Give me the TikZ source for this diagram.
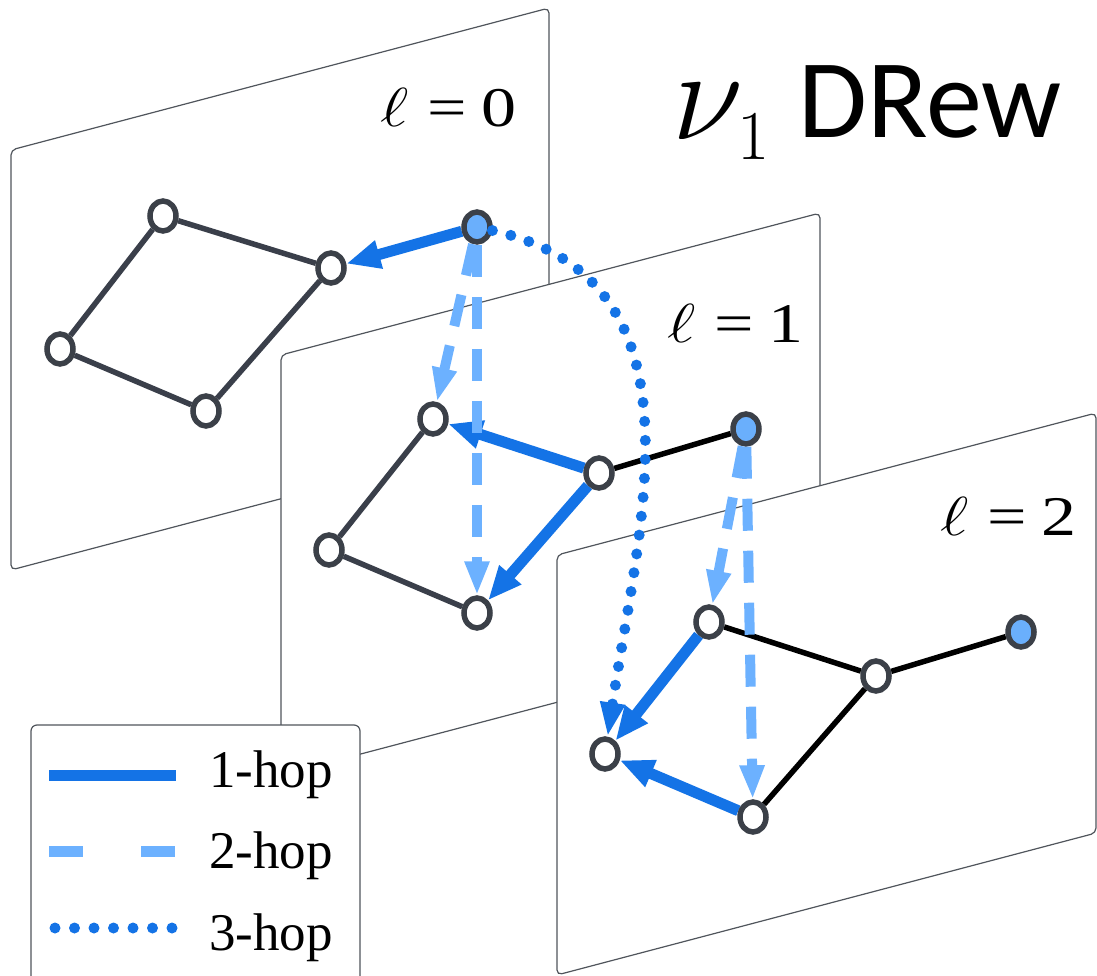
\RequirePackage{fix-cm}
\documentclass[tikz,border=0pt]{standalone}
\usepackage{fontspec}
\setmainfont{Liberation Serif}
\newfontfamily\carlito{Carlito}
\newfontfamily\lmfont{Latin Modern Roman}
\usetikzlibrary{arrows.meta,shapes.geometric}
\definecolor{hopblue}{HTML}{1473E6}
\definecolor{lightblue}{HTML}{6CB1FF}
\definecolor{nodefill}{HTML}{6AAFFC}
\definecolor{ringgray}{HTML}{3B4048}
\definecolor{edgegray}{HTML}{3A3F4A}
\definecolor{framegray}{HTML}{50555C}
\newcommand{\layerlab}[1]{\scalebox{1.25}[1]{\fontsize{55}{55}\selectfont$\ell$\hspace{15pt}\fontsize{56}{56}\selectfont=\hspace{12pt}#1}}
\pgfdeclarelayer{p0}\pgfdeclarelayer{e0}\pgfdeclarelayer{n0}
\pgfdeclarelayer{p1}\pgfdeclarelayer{e1}\pgfdeclarelayer{n1}
\pgfdeclarelayer{p2}\pgfdeclarelayer{e2}\pgfdeclarelayer{n2}
\pgfsetlayers{p0,e0,n0,p1,e1,n1,p2,e2,n2,main}
\tikzset{
  vtx/.style={ellipse, draw=ringgray, line width=5.5pt, fill=white, minimum width=26pt, minimum height=30pt, inner sep=0pt},
  src/.style={vtx, fill=nodefill},
  gedge/.style={draw=edgegray, line width=5.5pt},
  bedge/.style={draw=black, line width=5.5pt},
  onehop/.style={draw=hopblue, line width=11pt, -{Triangle[length=34pt,width=27pt]}},
  twohop/.style={draw=lightblue, line width=10pt, dash pattern=on 32pt off 20pt, -{Triangle[length=34pt,width=23pt]}},
  threehop/.style={draw=hopblue, line width=11pt, line cap=round, dash pattern=on 0pt off 19pt, -{Triangle[length=34pt,width=23pt]}},
  plane/.style={draw=framegray, line width=1.2pt, fill=white, rounded corners=5pt},
  layerlabel/.style={anchor=base west, inner sep=0pt},
  legtext/.style={anchor=base west, inner sep=0pt, font=\fontsize{53}{53}\selectfont},
}
\begin{document}
\begin{tikzpicture}[x=1pt,y=-1pt]
\useasboundingbox (0,0) rectangle (1097,976);
% ---------- plane 0
\begin{pgfonlayer}{p0}
\draw[plane] (11,150) -- (549,8) -- (549,428) -- (11,570) -- cycle;
\node[layerlabel] (lab0) at (380,127) {\layerlab{0}};
\end{pgfonlayer}
\begin{pgfonlayer}{n0}
\node[vtx] (a0) at (163,216) {};
\node[vtx] (b0) at (331,268) {};
\node[vtx] (c0) at (60,349) {};
\node[vtx] (d0) at (206,411) {};
\node[src] (s0) at (477,227) {};
\end{pgfonlayer}
\begin{pgfonlayer}{e0}
\draw[gedge] (a0) -- (b0);
\draw[gedge] (a0) -- (c0);
\draw[gedge] (c0) -- (d0);
\draw[gedge] (d0) -- (b0);
\draw[onehop] (s0) -- (b0);
\end{pgfonlayer}
% ---------- plane 1
\begin{pgfonlayer}{p1}
\draw[plane] (281,355) -- (820,213) -- (820,633) -- (281,775) -- cycle;
\node[layerlabel] (lab1) at (667,342) {\layerlab{1}};
\end{pgfonlayer}
\begin{pgfonlayer}{n1}
\node[vtx] (a1) at (433,419) {};
\node[vtx] (m1) at (599,473) {};
\node[vtx] (c1) at (329,550) {};
\node[vtx] (d1) at (477,613) {};
\node[src] (s1) at (746,429) {};
\end{pgfonlayer}
\begin{pgfonlayer}{e1}
\draw[gedge] (a1) -- (c1);
\draw[gedge] (c1) -- (d1);
\draw[bedge] (m1) -- (s1);
\draw[onehop] (m1) -- (a1);
\draw[onehop] (m1) -- (d1);
\end{pgfonlayer}
% ---------- plane 2
\begin{pgfonlayer}{p2}
\draw[plane] (557,555) -- (1096,413) -- (1096,833) -- (557,975) -- cycle;
\node[layerlabel] (lab2) at (940,535) {\layerlab{2}};
\end{pgfonlayer}
\begin{pgfonlayer}{n2}
\node[vtx] (a2) at (709,622) {};
\node[vtx] (m2) at (876,676) {};
\node[vtx] (c2) at (605,754) {};
\node[vtx] (d2) at (753,817) {};
\node[src] (s2) at (1021,632) {};
\end{pgfonlayer}
\begin{pgfonlayer}{e2}
\draw[bedge] (a2) -- (m2);
\draw[bedge] (m2) -- (s2);
\draw[bedge] (m2) -- (d2);
\draw[onehop] (a2) -- (c2);
\draw[onehop] (d2) -- (c2);
\end{pgfonlayer}
% ---------- cross-layer hops
\draw[twohop] (s0) -- (a1);
\draw[twohop] (s0) -- (d1);
\draw[twohop] (s1) -- (a2);
\draw[twohop] (s1) -- (d2);
\draw[threehop] (s0) .. controls (710,280) and (640,520) .. (c2);
% ---------- title
\node[anchor=base west, inner sep=0pt, font=\fontsize{130}{130}\selectfont] (nu) at (672,140) {$\nu$};
\node[anchor=base west, inner sep=0pt, font=\lmfont\fontsize{70}{70}\selectfont] (sub) at (737,160) {1};
\node[anchor=base west, inner sep=0pt, font=\carlito\fontsize{112}{112}\selectfont] (drew) at (798,138) {DRew};
% ---------- legend
\draw[plane, rounded corners=6pt] (31,725) rectangle (360,990);
\coordinate (l1a) at (49,775.5); \coordinate (l1b) at (176,775.5);
\coordinate (l2a) at (49,851.5); \coordinate (l2b) at (176,851.5);
\coordinate (l3a) at (55,928); \coordinate (l3b) at (173,928);
\draw[draw=hopblue, line width=11pt] (l1a) -- (l1b);
\draw[draw=lightblue, line width=11pt, dash pattern=on 34pt off 58pt] (l2a) -- (l2b);
\draw[draw=hopblue, line width=11pt, line cap=round, dash pattern=on 0pt off 19.5pt] (l3a) -- (l3b);
\node[legtext] (t1) at (209,787) {1-hop};
\node[legtext] (t2) at (209,868) {2-hop};
\node[legtext] (t3) at (209,950) {3-hop};
\end{tikzpicture}
\end{document}
